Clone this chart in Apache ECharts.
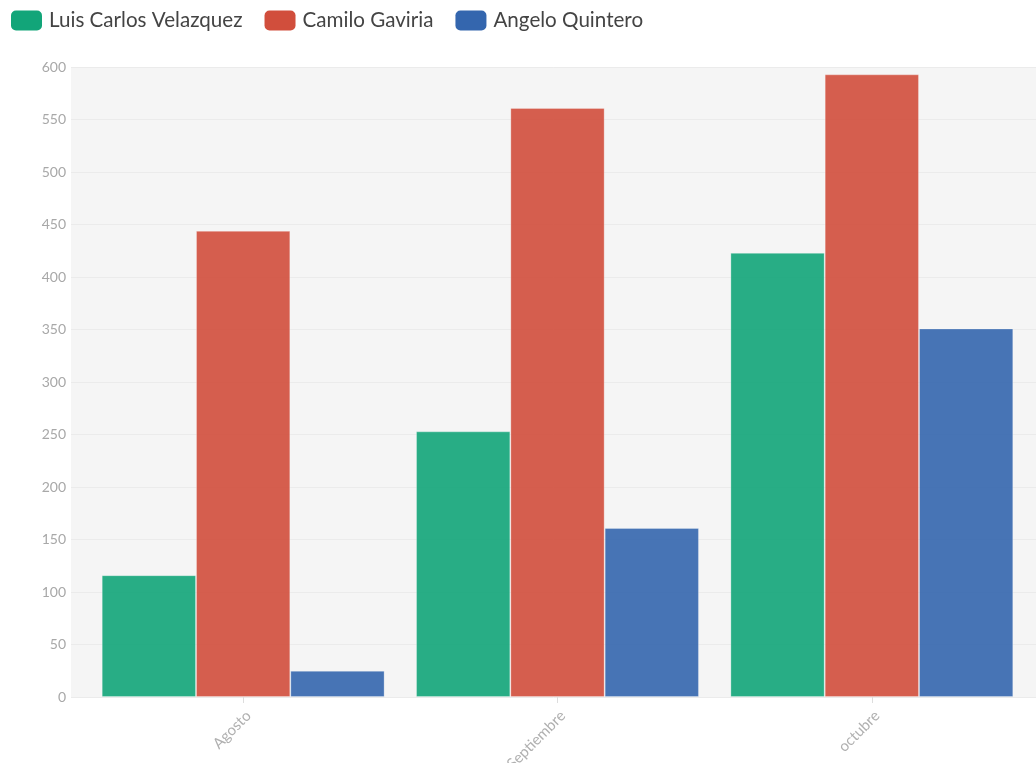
<!DOCTYPE html>
<html>
<head>
<meta charset="utf-8">
<title>Comparativo mensual</title>
<script src="https://cdn.jsdelivr.net/npm/echarts@6/dist/echarts.min.js"></script>
<style>
  html, body { margin: 0; padding: 0; background: #ffffff; }
  #chart { width: 1036px; height: 763px; }
</style>
</head>
<body>
<div id="chart"></div>
<script>
// Months on the category axis
const months = ['Agosto', 'Septiembre', 'octubre'];

// One list of monthly totals per person
const luisCarlosVelazquez = [116, 253, 423];
const camiloGaviria = [444, 561, 593];
const angeloQuintero = [25, 161, 351];

const seriesNames = ['Luis Carlos Velazquez', 'Camilo Gaviria', 'Angelo Quintero'];
const seriesColors = ['#12a579', '#d14e3c', '#3466ae'];
const seriesValues = [luisCarlosVelazquez, camiloGaviria, angeloQuintero];

// Value axis range and step
const yMin = 0;
const yMax = 600;
const yStep = 50;

const fontFamily = 'Lato, "Open Sans", sans-serif';

const chart = echarts.init(document.getElementById('chart'), null, { renderer: 'canvas' });

const option = {
  animation: false,
  textStyle: { fontFamily: fontFamily },
  legend: {
    left: 6,
    top: 5,
    itemWidth: 31,
    itemHeight: 20,
    itemGap: 22,
    icon: 'roundRect',
    textStyle: { fontSize: 20.6, color: '#444444', fontFamily: fontFamily, padding: [0, 0, 0, 2] },
    data: seriesNames.map((n, i) => ({ name: n, itemStyle: { color: seriesColors[i], opacity: 1, borderWidth: 0 } }))
  },
  grid: [
    // background panel with the value gridlines
    { left: 71, right: 0, top: 67, bottom: 66, show: true, backgroundColor: '#f5f5f5', borderWidth: 0,
      containLabel: false, outerBoundsMode: 'none' },
    // bar area
    { left: 86, right: 7, top: 67, bottom: 66, containLabel: false, outerBoundsMode: 'none' }
  ],
  xAxis: [
    { gridIndex: 0, type: 'category', data: months, show: false },
    {
      gridIndex: 1,
      type: 'category',
      data: months,
      axisLine: { show: false },
      axisTick: { show: true, alignWithLabel: true, length: 6, lineStyle: { color: '#dddddd' } },
      axisLabel: { rotate: 45, color: '#b0b0b0', fontSize: 15, margin: 11, verticalAlign: 'top',
        fontFamily: fontFamily }
    }
  ],
  yAxis: [
    {
      gridIndex: 0,
      type: 'value',
      min: yMin,
      max: yMax,
      interval: yStep,
      axisLine: { show: false },
      axisTick: { show: false },
      axisLabel: { color: '#a8a8a8', fontSize: 14, margin: 5, fontFamily: fontFamily },
      splitLine: { show: true, lineStyle: { color: '#ebebeb', width: 1 } }
    },
    {
      gridIndex: 1,
      type: 'value',
      min: yMin,
      max: yMax,
      interval: yStep,
      show: false,
      splitLine: { show: false }
    }
  ],
  series: seriesNames.map((name, i) => ({
    name: name,
    type: 'bar',
    xAxisIndex: 1,
    yAxisIndex: 1,
    data: seriesValues[i],
    barGap: '0%',
    barCategoryGap: '10%',
    itemStyle: {
      color: seriesColors[i],
      opacity: 0.9,
      borderColor: 'rgba(255,255,255,0.3)',
      borderWidth: 1
    },
    emphasis: { disabled: true }
  }))
};

chart.setOption(option);
</script>
</body>
</html>
